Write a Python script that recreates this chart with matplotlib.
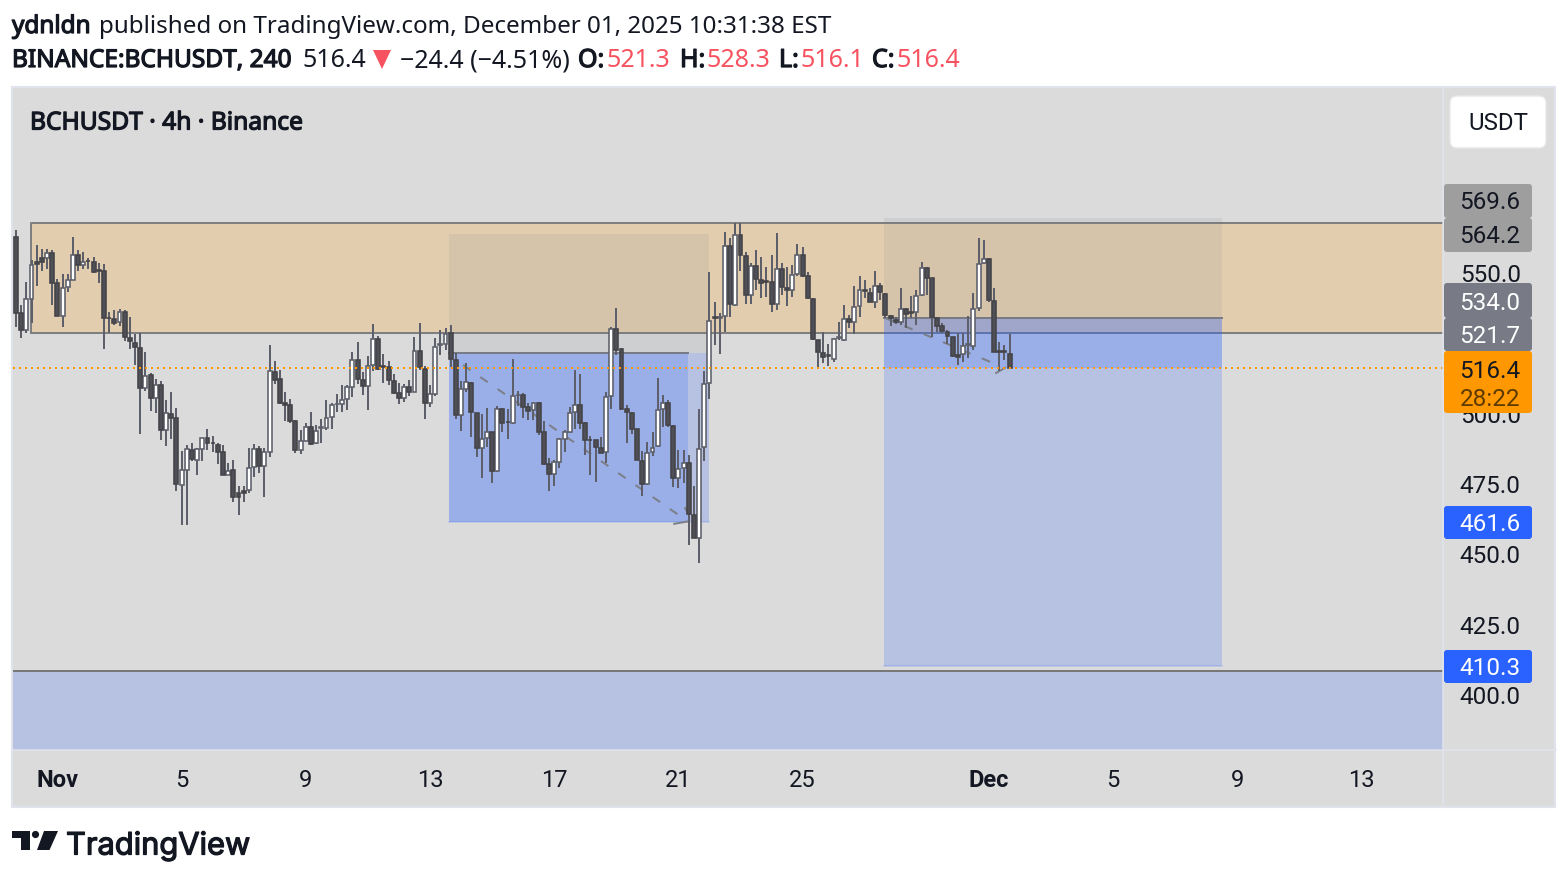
import matplotlib
matplotlib.use('Agg')
import matplotlib.pyplot as plt
import matplotlib.patheffects as pe
from matplotlib.patches import Rectangle, FancyBboxPatch, Polygon, Circle
import numpy as np

# 4h candles, oldest first
opens = [562.8, 535.8, 529.9, 540.8, 554.2, 555.4, 555.4, 557.4, 546.5, 534.9, 545.1, 547.7, 556.6, 553.0, 554.6, 553.9, 551.3, 551.0, 534.3, 533.7, 532.7, 536.3, 526.9, 525.4, 523.6, 509.1, 513.7, 505.6, 510.3, 494.3, 500.1, 498.4, 474.8, 480.1, 487.2, 483.7, 487.7, 491.5, 489.8, 488.9, 486.3, 478.3, 479.9, 471.8, 472.7, 473.0, 481.0, 487.4,
         481.3, 486.4, 515.1, 512.3, 504.0, 503.3, 497.6, 487.2, 490.5, 495.5, 489.6, 495.0, 495.1, 498.8, 503.4, 503.6, 505.2, 509.5, 519.2, 512.2, 509.8, 517.4, 526.8, 517.1, 516.6, 511.9, 507.6, 505.7, 509.7, 507.7, 522.5, 516.1, 503.8, 507.1, 524.5, 524.8, 528.7, 519.2, 499.5, 509.0, 511.1, 500.5, 487.8, 491.3, 493.7, 479.7, 501.7, 497.2,
         496.7, 506.6, 506.9, 502.4, 501.3, 504.0, 493.4, 482.1, 478.5, 483.0, 491.0, 493.4, 500.7, 503.3, 496.7, 490.9, 490.6, 488.0, 486.4, 506.4, 530.1, 523.0, 501.7, 500.5, 494.5, 483.4, 475.0, 486.4, 488.6, 501.8, 504.0, 495.8, 477.1, 480.9, 482.7, 464.2, 455.9, 488.1,
         511.1, 534.5, 534.3, 535.0, 559.9, 538.8, 563.7, 556.3, 542.3, 552.8, 547.8, 547.3, 547.1, 539.1, 551.6, 544.9, 544.1, 549.8, 556.6, 549.0, 541.0, 526.4, 521.8, 520.8, 519.6, 526.9, 526.3, 533.8, 532.8, 538.4, 544.0, 543.2, 539.7, 545.7, 542.8, 535.0, 533.6, 532.6, 537.4, 536.2, 536.2, 542.3, 551.8, 548.5, 534.3, 531.4, 529.3, 527.5, 521.0, 521.5, 524.4, 524.2, 537.6, 553.7, 555.1, 540.2, 522.3, 522.3, 521.3]
highs = [565.5, 538.8, 546.9, 554.8, 560.1, 558.7, 558.7, 558.4, 547.9, 549.8, 549.8, 562.9, 558.4, 557.5, 555.4, 555.8, 553.6, 553.3, 536.3, 537.0, 537.4, 537.0, 534.4, 528.5, 528.7, 522.0, 514.5, 512.5, 511.6, 505.0, 507.8, 502.0, 486.9, 489.0, 489.6, 487.9, 491.6, 494.7, 492.2, 489.6, 489.0, 482.7, 483.7, 474.4, 474.4, 487.9, 489.3, 488.6,
         487.8, 524.5, 518.9, 515.7, 507.7, 505.3, 497.7, 494.3, 496.7, 500.7, 496.0, 498.1, 505.0, 503.8, 507.1, 510.3, 510.2, 521.9, 525.5, 514.9, 520.6, 532.0, 527.7, 521.2, 518.9, 514.2, 510.9, 510.6, 512.1, 527.3, 532.3, 517.2, 510.3, 526.9, 529.9, 530.5, 531.7, 521.6, 511.7, 518.0, 511.5, 500.5, 500.0, 502.1, 493.7, 502.8, 502.0, 501.7,
         519.4, 508.2, 507.3, 504.0, 504.4, 504.3, 497.6, 484.2, 483.6, 491.3, 494.3, 502.4, 515.7, 514.2, 497.0, 492.2, 490.7, 491.8, 507.8, 531.1, 537.7, 523.4, 503.2, 500.6, 494.5, 486.7, 489.9, 493.6, 512.7, 506.8, 505.0, 496.1, 487.2, 487.2, 485.3, 474.5, 501.8, 515.3,
         550.4, 539.7, 535.8, 564.6, 562.5, 567.8, 567.8, 557.5, 553.6, 558.3, 556.0, 552.4, 556.6, 564.3, 553.6, 552.4, 553.0, 560.4, 559.3, 550.6, 541.1, 526.4, 529.3, 524.8, 527.2, 532.8, 538.8, 535.2, 545.7, 549.0, 547.7, 544.9, 550.9, 546.5, 542.9, 535.2, 534.6, 544.7, 537.6, 542.0, 544.1, 554.2, 552.4, 548.5, 534.3, 532.3, 529.9, 527.5, 528.7, 528.7, 534.9, 542.9, 562.5, 561.9, 555.4, 544.7, 525.5, 524.5, 528.3]
lows = [531.1, 527.2, 528.7, 532.5, 545.6, 551.0, 551.6, 538.6, 534.9, 531.1, 543.5, 547.7, 550.7, 551.6, 551.6, 550.3, 546.7, 523.0, 528.9, 531.7, 531.4, 526.1, 523.0, 517.4, 492.7, 508.3, 501.2, 500.5, 490.8, 488.7, 491.2, 472.7, 460.4, 460.6, 483.1, 478.1, 483.4, 487.2, 486.3, 482.2, 478.1, 478.3, 468.8, 464.2, 468.5, 471.8, 477.4, 478.9,
        470.6, 484.8, 510.6, 503.6, 497.6, 496.9, 486.2, 485.9, 490.2, 488.8, 489.3, 489.8, 494.3, 494.8, 500.8, 500.8, 501.5, 506.2, 510.8, 506.9, 501.5, 515.4, 515.5, 511.1, 510.2, 507.2, 503.7, 504.4, 506.5, 507.7, 515.5, 498.3, 502.6, 506.4, 521.0, 522.8, 516.8, 498.3, 494.1, 507.9, 491.9, 484.8, 477.1, 488.4, 475.6, 479.5, 493.7, 491.0,
        496.3, 502.8, 498.7, 497.9, 497.9, 492.6, 481.9, 472.6, 474.5, 480.9, 486.6, 493.1, 494.8, 494.8, 485.4, 478.3, 475.8, 486.0, 482.7, 501.8, 520.8, 501.4, 489.8, 492.9, 483.6, 470.9, 474.7, 485.1, 488.4, 495.3, 495.3, 474.1, 473.5, 475.3, 453.4, 455.8, 447.1, 483.4,
        505.4, 524.5, 521.2, 529.3, 534.6, 538.5, 551.0, 539.0, 539.3, 544.1, 541.1, 541.7, 536.4, 537.0, 542.3, 538.5, 541.7, 549.1, 548.9, 540.9, 526.3, 516.5, 518.0, 517.2, 518.6, 526.2, 526.1, 530.5, 528.6, 534.6, 541.1, 539.7, 537.6, 540.6, 534.0, 531.3, 531.9, 531.7, 530.5, 534.0, 531.7, 542.1, 542.3, 527.5, 529.3, 528.7, 524.8, 520.4, 517.4, 518.4, 520.0, 522.8, 536.6, 553.5, 540.0, 521.9, 515.3, 519.2, 516.1]
closes = [535.8, 529.9, 540.8, 553.0, 553.3, 554.2, 557.4, 546.5, 534.9, 544.8, 547.5, 556.6, 553.0, 554.2, 554.3, 550.5, 551.0, 534.2, 534.1, 532.5, 536.3, 527.3, 525.9, 523.7, 509.1, 513.5, 505.6, 510.3, 494.3, 500.5, 498.5, 475.1, 479.9, 487.4, 483.9, 487.4, 491.5, 489.8, 489.7, 486.5, 478.3, 479.7, 470.4, 470.6, 472.0, 480.6, 487.7, 481.5,
          486.6, 515.4, 512.1, 504.0, 503.3, 497.6, 487.0, 490.5, 495.5, 489.3, 494.1, 495.3, 498.7, 503.2, 503.7, 505.1, 509.7, 519.2, 512.3, 509.8, 517.2, 526.8, 515.9, 516.8, 512.0, 507.6, 505.6, 509.7, 507.7, 522.5, 516.6, 503.8, 507.1, 524.0, 524.8, 528.5, 519.4, 499.5, 508.9, 511.5, 500.6, 487.9, 491.0, 493.4, 479.7, 501.7, 496.7, 497.0,
          506.4, 506.9, 502.4, 501.2, 503.9, 493.5, 482.1, 478.5, 482.8, 491.0, 493.4, 500.5, 503.3, 496.9, 490.7, 490.6, 488.1, 486.2, 506.2, 530.1, 522.8, 501.7, 500.6, 494.5, 483.6, 475.0, 486.0, 487.9, 501.5, 503.9, 496.0, 477.1, 480.3, 482.6, 464.4, 455.9, 487.5, 510.7,
          533.1, 534.2, 534.5, 559.9, 539.0, 563.7, 556.6, 542.3, 552.8, 547.9, 546.5, 547.1, 539.0, 551.6, 545.2, 544.0, 549.5, 556.6, 549.2, 541.1, 526.6, 521.9, 520.4, 520.5, 526.7, 527.3, 533.8, 532.6, 538.1, 544.1, 543.8, 539.7, 545.7, 543.3, 535.2, 534.0, 532.6, 537.4, 535.5, 535.9, 542.1, 551.8, 548.3, 534.5, 531.4, 529.5, 527.6, 520.5, 520.2, 524.3, 524.8, 537.4, 553.5, 555.1, 540.4, 522.1, 522.1, 522.1, 516.4]

last_price = 516.4
y_ticks = [550, 500, 475, 450, 425, 400]
day_offsets = [0, 4, 8, 12, 16, 20, 24, 30, 34, 38, 42]
day_labels = ['Nov', '5', '9', '13', '17', '21', '25', 'Dec', '5', '9', '13']

BG = '#dbdbdb'
INK = '#131722'
BLUE = '#2962ff'
GREY = '#787b86'
RED = '#f7525f'
PX = 0.72  # one pixel in points at dpi 100
# Noto Sans has no bold face here, so thicken it with a stroke
HEAVY = [pe.withStroke(linewidth=0.9, foreground=INK)]

fig = plt.figure(figsize=(15.68, 8.8), dpi=100, facecolor='white')

# page layer, in pixels
bg = fig.add_axes([0, 0, 1, 1], zorder=0)
bg.set_xlim(0, 1568)
bg.set_ylim(880, 0)
bg.axis('off')
bg.add_patch(Rectangle((12.5, 87), 1543, 720, fc=BG, ec='#e0e3eb', lw=1.5))

# chart
ax = fig.add_axes([13 / 1568, 130 / 880, 1430 / 1568, 662 / 880], zorder=1)
ax.patch.set_alpha(0)
ax.set_xlim(-0.58, 275.75)
ax.set_ylim(380.4, 616.0)
for s in ax.spines.values():
    s.set_visible(False)

x = np.arange(len(opens))
o = np.array(opens)
h = np.array(highs)
l = np.array(lows)
c = np.array(closes)
up = c >= o

# zones
ax.add_patch(Rectangle((2.9, 528.8), 273, 39.2, fc='#ff9800', alpha=0.2, ec='none', zorder=1))
ax.plot([2.9, 2.9, 275.75], [528.8, 568.0, 568.0], color='#7f7f7f', lw=2 * PX, zorder=1.5)
ax.plot([2.9, 275.75], [528.8, 528.8], color='#7f7f7f', lw=2 * PX, zorder=1.5)
ax.add_patch(Rectangle((-0.58, 370), 276.4, 38.5, fc=BLUE, alpha=0.2, ec='none', zorder=1))
ax.plot([-0.58, 275.75], [408.5, 408.5], color='#787878', lw=2 * PX, zorder=1.5)

# first position
ax.add_patch(Rectangle((83.7, 521.7), 50.2, 42.5, fc=GREY, alpha=0.12, ec='none', zorder=2))
ax.add_patch(Rectangle((83.7, 461.6), 50.2, 60.1, fc=BLUE, alpha=0.2, ec='none', zorder=2))
ax.add_patch(Rectangle((83.7, 461.6), 46.1, 60.1, fc=BLUE, alpha=0.2, ec='none', zorder=2))
ax.plot([83.7, 129.8], [521.7, 521.7], color=GREY, lw=2 * PX, zorder=2.2)
ax.plot([83.7, 133.9], [461.6, 461.6], color=BLUE, alpha=0.2, lw=1.5 * PX, zorder=2.2)

# second position
ax.add_patch(Rectangle((167.7, 534.0), 65.4, 35.6, fc=GREY, alpha=0.12, ec='none', zorder=2))
ax.add_patch(Rectangle((167.7, 410.3), 65.4, 123.7, fc=BLUE, alpha=0.2, ec='none', zorder=2))
ax.add_patch(Rectangle((167.7, last_price), 65.4, 17.6, fc=BLUE, alpha=0.2, ec='none', zorder=2))
ax.plot([167.7, 233.1], [534.0, 534.0], color=GREY, lw=2 * PX, zorder=2.2)
ax.plot([167.7, 233.1], [410.3, 410.3], color=BLUE, alpha=0.2, lw=1.5 * PX, zorder=2.2)

# projected paths
dash = (0, (4.5, 6))
ax.plot([86.4, 129.7], [517.4, 461.9], color='#7d7f88', lw=2 * PX, ls=dash, zorder=2.5)
ax.plot([127.2, 129.7], [460.9, 461.7], color='#7d7f88', lw=2 * PX, zorder=2.5)
ax.plot([129.3, 129.7], [466.5, 465.1], color='#7d7f88', lw=2 * PX, zorder=2.5)
ax.plot([167.9, 190.0], [534.2, 517.2], color='#7d7f88', lw=2 * PX, ls=dash, zorder=2.5)
ax.plot([189.4, 191.1], [514.6, 516.4], color='#7d7f88', lw=2 * PX, zorder=2.5)

# candles
ax.vlines(x, l, h, color='#5d606b', lw=2 * PX, zorder=3)
ax.bar(x[up], (c - o)[up], bottom=o[up], width=0.76, color='white', edgecolor='#5d606b', linewidth=1.6 * PX, zorder=4)
ax.bar(x[~up], (c - o)[~up], bottom=o[~up], width=0.76, color='#4f5057', edgecolor='#434348', linewidth=1.6 * PX, zorder=4)

ax.axhline(last_price, color='#ff9800', lw=2 * PX, ls=(0, (1, 2)), zorder=5)

# axes
ax.yaxis.tick_right()
ax.set_yticks(y_ticks)
ax.set_yticklabels([f'{v:.1f}' for v in y_ticks], family='Roboto', fontsize=17.5, color=INK)
ax.set_xticks([8 + 6 * d for d in day_offsets])
ax.set_xticklabels(day_labels, family='Roboto', fontsize=17, color=INK)
for t in ax.get_xticklabels():
    if t.get_text() in ('Nov', 'Dec'):
        t.set_fontweight('bold')
ax.tick_params(axis='both', length=0)
ax.tick_params(axis='x', pad=14)
ax.tick_params(axis='y', pad=12)

# top layer, in pixels
top = fig.add_axes([0, 0, 1, 1], zorder=2)
top.set_xlim(0, 1568)
top.set_ylim(880, 0)
top.axis('off')
top.patch.set_alpha(0)

top.plot([13, 1556], [750.5, 750.5], color='#e0e3eb', lw=1.5 * PX)
top.plot([1443.5, 1443.5], [88, 807], color='#e0e3eb', lw=1.5 * PX)


def tag(y0, y1, fc, lines, colors, text_y):
    top.add_patch(FancyBboxPatch((1444, y0), 88, y1 - y0, boxstyle='round,pad=0,rounding_size=3', fc=fc, ec='none'))
    for txt, col, yc in zip(lines, colors, text_y):
        top.text(1490, yc, txt, family='Roboto', fontsize=17.5, color=col, ha='center', va='center_baseline')


tag(184, 218, '#9e9e9e', ['569.6'], [INK], [200])
tag(218, 252, '#9e9e9e', ['564.2'], [INK], [234])
tag(283, 318, GREY, ['534.0'], ['white'], [300.5])
tag(318, 351, GREY, ['521.7'], ['white'], [334])
tag(351, 413, '#ff9800', ['516.4', '28:22'], [INK, '#5c3a00'], [368.5, 396.5])
tag(506, 539, BLUE, ['461.6'], ['white'], [522])
tag(650, 683, BLUE, ['410.3'], ['white'], [666])

top.add_patch(FancyBboxPatch((1450, 96), 96, 52, boxstyle='round,pad=0,rounding_size=7', fc='white', ec='#e8e8ea', lw=1))
top.text(1498, 121, 'USDT', family='Roboto', fontsize=17.3, color=INK, ha='center', va='center_baseline')

top.text(30, 120, 'BCHUSDT · 4h · Binance', family='Noto Sans', fontsize=17.7, color=INK, va='center_baseline', path_effects=HEAVY)

# header
hdr = 'Noto Sans'
top.text(12, 33, 'ydnldn', family=hdr, fontsize=17.5, color=INK, path_effects=HEAVY)
top.text(99, 33, 'published on TradingView.com, December 01, 2025 10:31:38 EST', family=hdr, fontsize=17.43, color=INK)
top.text(12, 67, 'BINANCE:BCHUSDT, 240', family=hdr, fontsize=17.6, color=INK, path_effects=HEAVY)
top.text(302, 67, '516.4', family=hdr, fontsize=18, color=INK)
top.add_patch(Polygon([(373, 50), (391, 50), (382, 69)], fc=RED, ec='none'))
top.text(400, 67, '−24.4 (−4.51%)', family=hdr, fontsize=18, color=INK)
for lx, lab, vx, val in [(578, 'O:', 606, '521.3'), (680, 'H:', 706, '528.3'), (779, 'L:', 800, '516.1'), (872, 'C:', 896, '516.4')]:
    top.text(lx, 67, lab, family=hdr, fontsize=18, color=INK, path_effects=HEAVY)
    top.text(vx, 67, val, family=hdr, fontsize=18, color=RED)

# logo
top.add_patch(Polygon([(12, 831), (30, 831), (30, 850), (21, 850), (21, 838), (12, 838)], fc=INK, ec='none'))
top.add_patch(Circle((35.5, 834.5), 3.6, fc=INK, ec='none'))
top.add_patch(Polygon([(44, 831), (58, 831), (49.5, 850), (37, 850)], fc=INK, ec='none'))
top.text(66, 854.5, 'TradingView', family='Inter', fontsize=22.2, color=INK, path_effects=HEAVY)

plt.savefig('out.png', dpi=100)
